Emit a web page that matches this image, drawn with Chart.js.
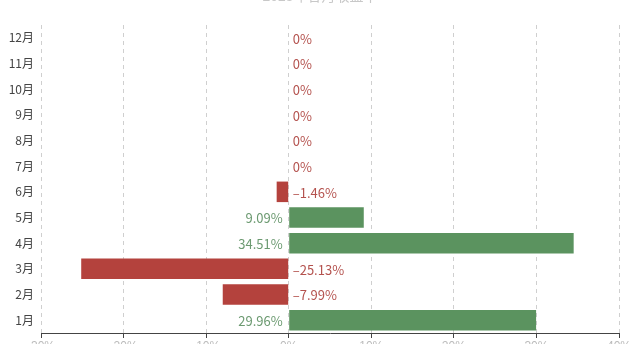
<!DOCTYPE html>
<html>
<head>
<meta charset="utf-8">
<script src="https://cdn.jsdelivr.net/npm/chart.js@4.4.0/dist/chart.umd.min.js"></script>
<style>
 html,body{margin:0;padding:0;background:#fff;overflow:hidden;}
 #wrap{position:relative;width:640px;height:344px;}
</style>
</head>
<body>
<div id="wrap"><canvas id="chartID"></canvas></div>
<script>
// monthly returns, %
var months=['1月','2月','3月','4月','5月','6月','7月','8月','9月','10月','11月','12月'];
var returns=[29.96,-7.99,-25.13,34.51,9.09,-1.46,0,0,0,0,0,0];
var xTicks=[-30,-20,-10,0,10,20,30,40];
var chartTitle='2023年各月收益率';

var greenBar='#5b935f';
var redBar='#b4423d';
var greenText='#6c9a71';
var redText='#b4524e';

var barColors=returns.map(function(v){return v>0?greenBar:redBar;});

// value labels beside zero line, and the clipped title at the top
var labelPlugin={
 id:'valueLabels',
 afterDatasetsDraw:function(chart){
  var c=chart.ctx;
  var xs=chart.scales.x;
  var zero=xs.getPixelForValue(0);
  var meta=chart.getDatasetMeta(0);
  c.save();
  c.font='13px "Noto Sans CJK SC", "Liberation Sans", sans-serif';
  c.textBaseline='middle';
  meta.data.forEach(function(bar,i){
   var v=returns[i];
   var txt=(Math.round(v*100)/100)+'%';
   if (v<0) {txt='\u2013'+Math.abs(v)+'%';}
   if (v>0) {
    c.fillStyle=greenText; c.textAlign='right';
    c.fillText(txt,zero-6,bar.y+1);
   } else {
    c.fillStyle=redText; c.textAlign='left';
    c.fillText(txt,zero+4,bar.y+1);
   }
  });
  c.font='14px "Noto Sans CJK SC", sans-serif';
  c.fillStyle='#c8c8c8';
  c.textAlign='center';
  c.textBaseline='bottom';
  c.fillText(chartTitle,chart.width/2,3);
  c.restore();
 }
};

var ctx=document.getElementById('chartID').getContext('2d');
var returnChart=new Chart(ctx,{
 type:'bar',
 data:{labels:months,datasets:[{label:'收益率',data:returns,backgroundColor:barColors,borderWidth:0,barPercentage:0.8,categoryPercentage:1}]},
 options:{
  indexAxis:'y',
  responsive:true,
  maintainAspectRatio:false,
  animation:false,
  layout:{padding:{top:25,right:21,left:0,bottom:0}},
  plugins:{legend:{display:false},title:{display:false},tooltip:{enabled:false}},
  scales:{
   y:{
    reverse:true,
    grid:{display:false,drawTicks:false},
    border:{display:false},
    ticks:{color:'#444',padding:7,font:{size:12,family:'"Noto Sans CJK SC", sans-serif'}},
    afterFit:function(s){s.width=41;s.paddingTop=0;s.paddingBottom=0;}
   },
   x:{
    min:-30,max:40,
    afterBuildTicks:function(s){s.ticks=xTicks.map(function(v){return {value:v};});},
    grid:{color:'#cfcfcf',tickColor:'#444',tickBorderDash:[],tickLength:5},
    border:{display:true,color:'#444',width:1,dash:[4,4]},
    ticks:{color:'#bbb',padding:1,font:{size:12},callback:function(v){return v+'%';}},
    afterFit:function(s){s.height=11;}
   }
  }
 },
 plugins:[labelPlugin]
});
</script>
</body>
</html>
